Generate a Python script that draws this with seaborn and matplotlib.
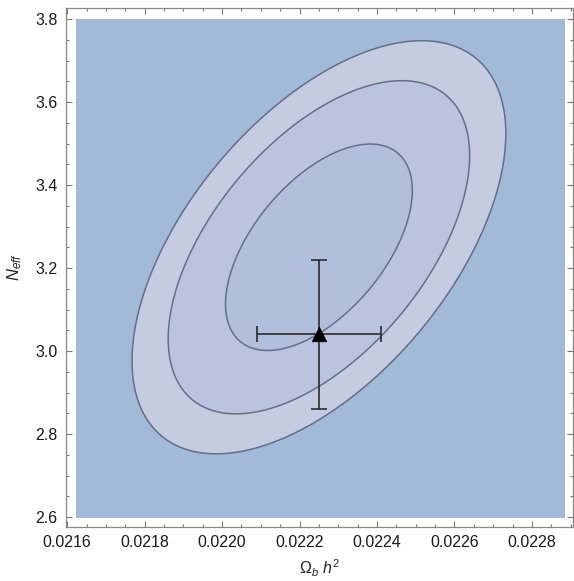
import numpy as np
import matplotlib
matplotlib.use("Agg")
import matplotlib.pyplot as plt
import seaborn as sns
from matplotlib.ticker import MultipleLocator, FormatStrFormatter

# ---- data ----
center_x = 0.02225          # Omega_b h^2 best fit of the likelihood
center_y = 3.25             # N_eff best fit
sigma_x = 0.000159
sigma_y = 0.164
rho = 0.55
chi2_levels = [2.30, 5.99, 9.21]   # 68%, 95%, 99% (2 dof)

region_x = [0.021623, 0.022885]    # plotted region
region_y = [2.6, 3.8]

point_x = [0.02225]
point_y = [3.04]
point_xerr = [0.00016]
point_yerr = [0.18]

x_ticks = [0.0216, 0.0218, 0.0220, 0.0222, 0.0224, 0.0226, 0.0228]
y_ticks = [2.6, 2.8, 3.0, 3.2, 3.4, 3.6, 3.8]

# ---- style ----
sns.set_theme(style="white")
plt.rcParams['font.family'] = ['Liberation Sans', 'DejaVu Sans']
plt.rcParams['mathtext.fontset'] = 'custom'
plt.rcParams['mathtext.rm'] = 'Liberation Sans'
plt.rcParams['mathtext.it'] = 'Liberation Sans:italic'

W, H = 574, 581
fig = plt.figure(figsize=(W / 100, H / 100), dpi=100)
ax = fig.add_axes([66 / W, 1 - 527 / H, (573 - 66) / W, (527 - 8) / H])
ax.set_facecolor('white')

# likelihood grid
gx = np.linspace(region_x[0], region_x[1], 500)
gy = np.linspace(region_y[0], region_y[1], 500)
XX, YY = np.meshgrid(gx, gy)
dx = (XX - center_x) / sigma_x
dy = (YY - center_y) / sigma_y
chi2 = (dx ** 2 - 2 * rho * dx * dy + dy ** 2) / (1 - rho ** 2)

fill_colors = ['#b1bedc', '#bac4de', '#c5cbe0', '#a2b9d7']
ax.contourf(XX, YY, chi2, levels=[0] + chi2_levels + [1e9], colors=fill_colors)
ax.contour(XX, YY, chi2, levels=chi2_levels, colors='#637087', linewidths=1.1)

# data point with error bars
ax.errorbar(point_x, point_y, xerr=point_xerr, yerr=point_yerr, fmt='none',
            ecolor='#2b2b2b', elinewidth=1.2, capsize=6, capthick=1.2, zorder=4)
sns.scatterplot(x=point_x, y=point_y, marker='^', s=110, color='black',
                edgecolor='black', linewidth=0.5, ax=ax, zorder=5, legend=False)

# axes
ax.set_xlim(0.021597, 0.022906)
ax.set_ylim(2.576, 3.8265)
ax.set_xticks(x_ticks)
ax.set_yticks(y_ticks)
ax.xaxis.set_major_formatter(FormatStrFormatter('%.4f'))
ax.yaxis.set_major_formatter(FormatStrFormatter('%.1f'))
ax.xaxis.set_minor_locator(MultipleLocator(0.00005))
ax.yaxis.set_minor_locator(MultipleLocator(0.05))
ax.tick_params(which='both', direction='in', top=True, right=True,
               bottom=True, left=True, color='#777777', width=0.8,
               labelsize=11.5, labelcolor='#1a1a1a')
ax.tick_params(which='major', length=4.5, pad=6)
ax.tick_params(which='minor', length=2.5)
for s in ax.spines.values():
    s.set_color('#888888')
    s.set_linewidth(0.9)

ax.set_xlabel(r'$\Omega_b\ h^2$', fontsize=11.5, color='#222222', labelpad=5)
ax.set_ylabel(r'$N_{eff}$', fontsize=12, color='#222222', labelpad=8)

fig.savefig('out.png', dpi=100)
